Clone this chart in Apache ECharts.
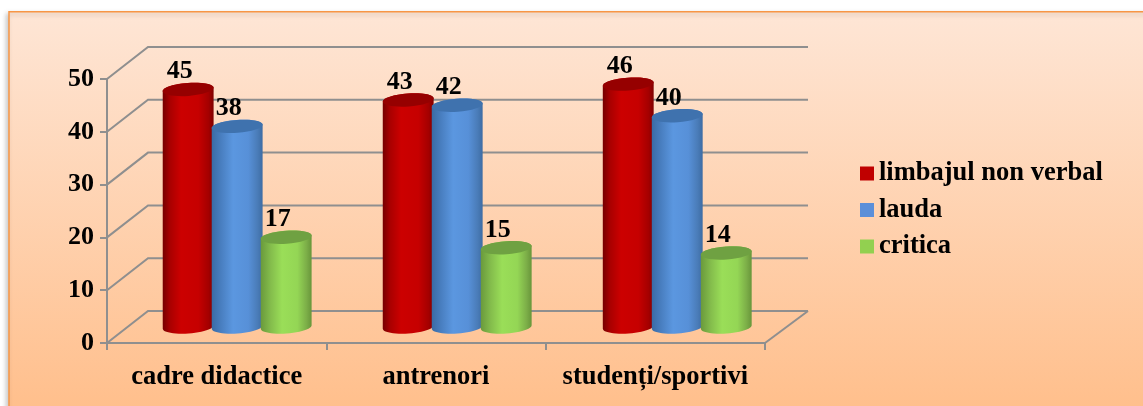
<!DOCTYPE html>
<html>
<head>
<meta charset="utf-8">
<style>
html, body { margin: 0; padding: 0; background: #fff; }
#chart { width: 1143px; height: 406px; }
</style>
<script src="https://cdn.jsdelivr.net/npm/echarts@6/dist/echarts.min.js"></script>
</head>
<body>
<div id="chart"></div>
<script>
var categories = ['cadre didactice', 'antrenori', 'studenți/sportivi'];
var limbajValues = [45, 43, 46];
var laudaValues = [38, 42, 40];
var criticaValues = [17, 15, 14];
var yTicks = [0, 10, 20, 30, 40, 50];

var FONT = '"Liberation Serif", "Times New Roman", serif';
var AXIS_GREY = '#8f8f8f';
var DEPTH_X = 41, DEPTH_Y = 32;  // how far the back wall sits from the front plane
var BAR_STEP = 49, BAR_RX = 25.5, BAR_RY = 6.5, TILT = 0.07;

var styles = [
    {
        legend: '#c00000',
        cap: '#960000',
        side: [[0, '#760000'], [0.14, '#a80000'], [0.36, '#cc0000'], [0.7, '#c60000'], [0.9, '#a40000'], [1, '#800000']]
    },
    {
        legend: '#5b8fd9',
        cap: '#3f72ae',
        side: [[0, '#3a6ba5'], [0.2, '#4a80c2'], [0.42, '#5b97e0'], [0.72, '#5790d8'], [0.9, '#4a7cb8'], [1, '#3d6ca4']]
    },
    {
        legend: '#92d050',
        cap: '#6fa142',
        side: [[0, '#6a993c'], [0.2, '#84bd4c'], [0.42, '#9ade58'], [0.72, '#94d655'], [0.9, '#7cae48'], [1, '#68963a']]
    }
];

// ellipse point, tilted so the right side sits a little higher
var ellipse_point = function (cx, cy, a) {
    var px = BAR_RX * Math.cos(a), py = BAR_RY * Math.sin(a);
    return [
        cx + px * Math.cos(TILT) + py * Math.sin(TILT),
        cy - px * Math.sin(TILT) + py * Math.cos(TILT)
    ];
};

var bar_render = function (idx) {
    return function (params, api) {
        var cat = api.value(0);
        var top = api.coord([cat, api.value(1)]);
        var base = api.coord([cat, 0]);
        // the groups sit a touch wider apart than the ticks
        var cx = top[0] + (idx - 1) * BAR_STEP + DEPTH_X / 2 + cat * 0.7;
        var topY = top[1] - DEPTH_Y / 2;
        var baseY = base[1] - DEPTH_Y / 2;
        var points = [];
        for (var i = 0; i <= 24; i++) {
            points.push(ellipse_point(cx, baseY, Math.PI - i / 24 * Math.PI));
        }
        for (var j = 0; j <= 24; j++) {
            points.push(ellipse_point(cx, topY, j / 24 * Math.PI * -1));
        }
        return {
            type: 'group',
            children: [
                {
                    type: 'polygon',
                    shape: { points: points },
                    style: { fill: new echarts.graphic.LinearGradient(0, 0, 1, 0, styles[idx].side.map(function (s) {
                        return { offset: s[0], color: s[1] };
                    })) }
                },
                {
                    type: 'ellipse',
                    x: cx,
                    y: topY,
                    rotation: TILT,
                    shape: { cx: 0, cy: 0, rx: BAR_RX, ry: BAR_RY },
                    style: { fill: styles[idx].cap }
                },
                {
                    type: 'text',
                    x: cx - 8.5,
                    y: topY - 18,
                    z2: 50,
                    style: {
                        text: String(api.value(1)),
                        font: 'bold 26px ' + FONT,
                        fill: '#000',
                        align: 'center',
                        verticalAlign: 'middle'
                    }
                }
            ]
        };
    };
};

var wall_render = function (params, api) {
    var sys = params.coordSys;
    var p = api.coord([0, api.value(0)]);
    var left = sys.x, right = sys.x + sys.width;
    var lineStyle = { stroke: AXIS_GREY, lineWidth: 2, fill: null };
    var children = [{
        type: 'polyline',
        shape: { points: [[left, p[1]], [left + DEPTH_X, p[1] - DEPTH_Y], [right + DEPTH_X + 2, p[1] - DEPTH_Y]] },
        style: lineStyle
    }];
    if (api.value(0) === 0) {
        children.push({
            type: 'line',
            shape: { x1: right, y1: p[1], x2: right + DEPTH_X + 2, y2: p[1] - DEPTH_Y },
            style: lineStyle
        });
    }
    return { type: 'group', children: children };
};

var make_bar = function (name, values, idx) {
    return {
        name: name,
        type: 'custom',
        renderItem: bar_render(idx),
        z: 3 + idx,
        itemStyle: { color: styles[idx].legend },
        encode: { x: 0, y: 1 },
        data: values.map(function (v, i) { return [i, v]; })
    };
};

var option = {
    animation: false,
    graphic: [{
        type: 'rect',
        z: -10,
        silent: true,
        shape: { x: 9, y: 11.75, width: 1300, height: 600 },
        style: {
            fill: new echarts.graphic.LinearGradient(0, 0, 0, 1, [
                { offset: 0, color: '#fee6d6' },
                { offset: 0.66, color: '#ffbf8c' },
                { offset: 1, color: '#ffbf8c' }
            ]),
            stroke: '#f79646',
            lineWidth: 1.5,
            shadowBlur: 5,
            shadowOffsetX: -2,
            shadowOffsetY: 2,
            shadowColor: 'rgba(0,0,0,0.22)'
        }
    }],
    grid: { left: 107, top: 79, width: 658, height: 264 },
    legend: {
        orient: 'vertical',
        left: 860,
        top: 160,
        padding: 0,
        itemWidth: 14,
        itemHeight: 14,
        itemGap: 9.5,
        icon: 'rect',
        data: ['limbajul non verbal', 'lauda', 'critica'],
        textStyle: { fontFamily: FONT, fontWeight: 'bold', fontSize: 26.5, color: '#000' }
    },
    xAxis: {
        type: 'category',
        data: categories,
        axisLine: { show: true, lineStyle: { color: AXIS_GREY, width: 2 } },
        axisTick: { show: true, length: 7, lineStyle: { color: AXIS_GREY, width: 2 } },
        axisLabel: { margin: 21, interval: 0, fontFamily: FONT, fontWeight: 'bold', fontSize: 26.5, color: '#000' }
    },
    yAxis: {
        type: 'value',
        min: 0,
        max: 50,
        interval: 10,
        splitLine: { show: false },
        axisLine: { show: true, lineStyle: { color: AXIS_GREY, width: 2 } },
        axisTick: { show: true, length: 7, lineStyle: { color: AXIS_GREY, width: 2 } },
        axisLabel: { margin: 13, fontFamily: FONT, fontWeight: 'bold', fontSize: 26, color: '#000' }
    },
    series: [
        {
            name: 'wall',
            type: 'custom',
            renderItem: wall_render,
            z: 1,
            encode: { y: 0 },
            data: yTicks.map(function (v) { return [v]; })
        },
        make_bar('limbajul non verbal', limbajValues, 0),
        make_bar('lauda', laudaValues, 1),
        make_bar('critica', criticaValues, 2)
    ]
};

var chart = echarts.init(document.getElementById('chart'));
chart.setOption(option);
</script>
</body>
</html>
